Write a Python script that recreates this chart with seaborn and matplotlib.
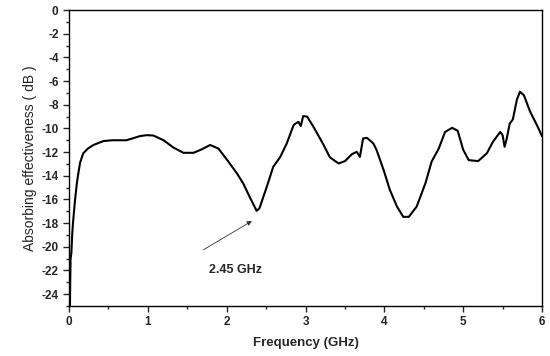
import numpy as np
import pandas as pd
import matplotlib
matplotlib.use("Agg")
import matplotlib.pyplot as plt
from matplotlib.ticker import MultipleLocator
import seaborn as sns

# values
freq = [0.012, 0.015, 0.02, 0.03, 0.04, 0.05, 0.076, 0.1, 0.118, 0.14, 0.18, 0.24, 0.31,
        0.435, 0.55, 0.73, 0.90, 0.986, 1.07, 1.20, 1.32, 1.45, 1.58, 1.68, 1.79, 1.895,
        2.01, 2.13, 2.21, 2.30, 2.38, 2.415, 2.51, 2.59, 2.68, 2.76, 2.85, 2.91, 2.94,
        2.97, 3.02, 3.10, 3.23, 3.31, 3.42, 3.50, 3.59, 3.65, 3.69, 3.73, 3.78, 3.86,
        3.90, 3.99, 4.07, 4.16, 4.24, 4.31, 4.41, 4.52, 4.60, 4.69, 4.77, 4.86, 4.93,
        5.00, 5.07, 5.19, 5.30, 5.38, 5.47, 5.50, 5.525, 5.55, 5.59, 5.63, 5.68, 5.72,
        5.77, 5.85, 5.935, 6.0]
absorb = [-25.0, -23.0, -21.0, -20.5, -19.0, -18.0, -16.06, -14.6, -13.8, -12.9, -12.1,
          -11.7, -11.4, -11.07, -11.0, -11.0, -10.65, -10.57, -10.6, -11.0, -11.6, -12.06,
          -12.06, -11.78, -11.4, -11.7, -12.7, -13.8, -14.65, -15.9, -16.96, -16.76,
          -14.9, -13.25, -12.4, -11.3, -9.7, -9.44, -9.8, -8.96, -9.0, -9.86, -11.4,
          -12.45, -12.96, -12.76, -12.17, -11.98, -12.4, -10.85, -10.8, -11.27, -11.8,
          -13.5, -15.2, -16.6, -17.47, -17.47, -16.6, -14.65, -12.8, -11.7, -10.3, -9.95,
          -10.2, -11.8, -12.68, -12.76, -12.1, -11.1, -10.3, -10.57, -11.55, -10.93, -9.6,
          -9.24, -7.6, -6.9, -7.2, -8.6, -9.72, -10.65]

data = pd.DataFrame({"Frequency": freq, "Absorb": absorb})

sns.set_style("ticks")
plt.rcParams['font.family'] = ['Liberation Sans', 'DejaVu Sans']
plt.rcParams['axes.unicode_minus'] = False

fig = plt.figure(figsize=(5.5, 3.56), dpi=100)
ax = fig.add_axes([0.1255, 0.1404, 0.86, 0.8315])

sns.lineplot(data=data, x="Frequency", y="Absorb", ax=ax, color="black",
             linewidth=1.5, sort=False)

ax.set_xlim(0, 6)
ax.set_ylim(-25, 0)
ax.xaxis.set_major_locator(MultipleLocator(1))
ax.xaxis.set_minor_locator(MultipleLocator(0.5))
ax.yaxis.set_major_locator(MultipleLocator(2))
ax.yaxis.set_minor_locator(MultipleLocator(1))
ax.tick_params(which="major", direction="out", length=4, width=1, labelsize=8.5)
ax.tick_params(which="minor", direction="out", length=2.5, width=1)
for lab in ax.get_xticklabels() + ax.get_yticklabels():
    lab.set_fontweight("bold")
for s in ax.spines.values():
    s.set_visible(True)
    s.set_linewidth(1)
    s.set_color("black")

ax.set_xlabel("Frequency (GHz)", fontsize=9.5, fontweight="bold", labelpad=6)
ax.set_ylabel("Absorbing effectiveness ( dB )", fontsize=10, labelpad=3)

ax.annotate("", xy=(2.35, -17.7), xytext=(1.675, -20.37),
            arrowprops=dict(arrowstyle="-|>", color="#333333", lw=0.6,
                            mutation_scale=7))
ax.text(2.11, -22.0, "2.45 GHz", fontsize=9, fontweight="bold",
        ha="center", va="center")

plt.savefig("out.png", dpi=100)
